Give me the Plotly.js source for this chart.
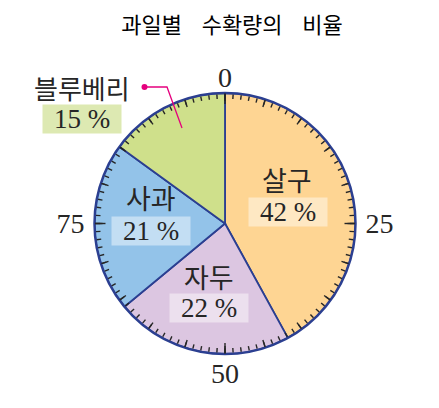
<!DOCTYPE html>
<html>
<head>
<meta charset="utf-8">
<script src="https://cdn.plot.ly/plotly-3.0.1.min.js"></script>
<style>html,body{margin:0;padding:0;background:#fff;}</style>
</head>
<body>
<div id="chart" style="width:439px;height:408px;"></div>
<script>
// harvest share by fruit (percent), clockwise from the top
var fruits = ['살구', '자두', '사과', '블루베리'];
var shares = [42, 22, 21, 15];
var sliceColors = ['#fed593', '#dcc6e1', '#93c3e9', '#cfe08b'];
var scaleLabels = [0, 25, 50, 75];

var W = 439, H = 408;
function px(x) { return x / W; }
function py(y) { return 1 - y / H; }

// percent -> degrees
var widths = shares.map(function(s) { return s * 3.6; });
var centers = [];
var start = 0;
for (var i = 0; i < widths.length; i++) {
  centers.push(start + widths[i] / 2);
  start += widths[i];
}

var dom = {x: [px(94), px(356)], y: [py(354), py(93)]};
var ink = '#262626';
var navy = '#2b3f91';

function ring(len, step, extra) {
  var p = {
    domain: dom,
    bgcolor: 'rgba(0,0,0,0)',
    radialaxis: {visible: false, range: [0, 1]},
    angularaxis: {
      rotation: 90, direction: 'clockwise', thetaunit: 'degrees',
      tickmode: 'linear', tick0: 0, dtick: step,
      ticks: 'inside', ticklen: len, tickwidth: 1.4, tickcolor: ink,
      showticklabels: false, showgrid: false, showline: false
    }
  };
  if (extra) Object.assign(p.angularaxis, extra);
  return p;
}

// an invisible point so each overlay ring gets drawn
function holder(name) {
  return {type: 'scatterpolar', r: [0], theta: [0], mode: 'markers',
    marker: {opacity: 0}, hoverinfo: 'skip', subplot: name};
}

var data = [{
  type: 'barpolar',
  r: shares.map(function() { return 1; }),
  theta: centers,
  width: widths,
  text: fruits,
  marker: {color: sliceColors, line: {color: navy, width: 1.8}},
  hoverinfo: 'text',
  subplot: 'polar'
}, holder('polar2'), holder('polar3'), holder('polar4'), holder('polar5')];

// scale numbers: top/bottom sit close, left/right get a bit more room
function labelRing(vals, gap) {
  return ring(gap, 90, {
    tickmode: 'array',
    tickvals: vals.map(function(v) { return v * 3.6; }),
    ticktext: vals.map(String),
    ticks: gap ? 'outside' : '', tickcolor: 'rgba(0,0,0,0)',
    showticklabels: true,
    tickfont: {family: 'Liberation Serif', size: 28, color: ink}
  });
}
var vertLabels = scaleLabels.filter(function(v) { return v % 50 === 0; });
var sideLabels = scaleLabels.filter(function(v) { return v % 50 !== 0; });

// label placement (pixels)
var namePos = [[287, 179], [209, 276], [151, 197], [82, 87]];
var pctPos = [[288, 212], [209, 308], [151, 231], [82, 119]];
var boxColors = ['rgba(255,255,255,0.45)', 'rgba(255,255,255,0.45)', 'rgba(255,255,255,0.45)', '#dde9b2'];

var annotations = [];
fruits.forEach(function(f, k) {
  annotations.push({
    xref: 'paper', yref: 'paper', x: px(namePos[k][0]), y: py(namePos[k][1]),
    xanchor: 'center', yanchor: 'middle',
    text: f, showarrow: false,
    font: {family: 'Noto Sans CJK KR', size: k === 3 ? 26 : 27, color: ink}
  });
  annotations.push({
    xref: 'paper', yref: 'paper', x: px(pctPos[k][0]), y: py(pctPos[k][1]),
    xanchor: 'center', yanchor: 'middle',
    text: shares[k] + ' %', showarrow: false, width: 76, height: 26,
    bgcolor: boxColors[k], borderpad: 1,
    font: {family: 'Liberation Serif', size: 27, color: ink}
  });
});

var pink = '#e5007d';
var layout = {
  width: W, height: H,
  margin: {l: 0, r: 0, t: 0, b: 0},
  paper_bgcolor: '#fff',
  showlegend: false,
  title: {
    text: '과일별\u00a0\u00a0\u00a0\u00a0수확량의\u00a0\u00a0\u00a0\u00a0비율',
    font: {family: 'Noto Sans CJK KR', size: 22, color: '#000'},
    x: px(232), xanchor: 'center', y: py(25), yanchor: 'middle'
  },
  polar: ring(4.5, 3.6, {showline: true, linecolor: navy, linewidth: 2.5}),
  polar2: ring(7.5, 18),
  polar3: ring(10.5, 90),
  polar4: labelRing(vertLabels, 0),
  polar5: labelRing(sideLabels, 4),
  annotations: annotations,
  shapes: [
    {type: 'path', xref: 'paper', yref: 'paper',
     path: 'M' + px(145) + ',' + py(87) + ' L' + px(167) + ',' + py(87) + ' L' + px(182) + ',' + py(128),
     line: {color: pink, width: 1.3}},
    {type: 'circle', xref: 'paper', yref: 'paper',
     x0: px(141.5), x1: px(147.5), y0: py(90), y1: py(84),
     fillcolor: pink, line: {width: 0}}
  ]
};

Plotly.newPlot('chart', data, layout, {displayModeBar: false, staticPlot: true});
</script>
</body>
</html>
